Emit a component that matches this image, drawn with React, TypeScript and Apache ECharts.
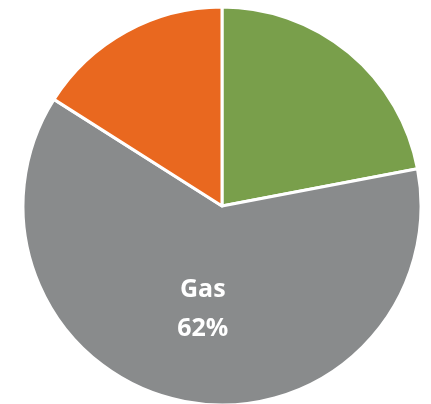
import React, { useEffect, useRef } from "react";
import * as echarts from "echarts";

const categories = ["Renewables", "Gas", "Coal"];
const values = [22, 62, 16];
const colors = ["#799f4b", "#898b8c", "#e9681f"];
const labeled = ["Gas"];

export default function App() {
  const ref = useRef<HTMLDivElement>(null);
  useEffect(() => {
    if (!ref.current) return;
    const chart = echarts.init(ref.current, null, { renderer: "svg" });
    chart.setOption({
      animation: false,
      series: [
        {
          type: "pie",
          center: [222, 206],
          radius: 199,
          startAngle: 90,
          clockwise: true,
          avoidLabelOverlap: false,
          labelLine: { show: false },
          itemStyle: { borderColor: "#ffffff", borderWidth: 3 },
          data: categories.map((name, i) => ({
            name,
            value: values[i],
            itemStyle: { color: colors[i] },
            label: {
              show: labeled.includes(name),
              position: "inside",
              formatter: "{b}\n{d}%",
              color: "#ffffff",
              fontFamily: "Open Sans",
              fontWeight: "bold",
              fontSize: 25,
              lineHeight: 39,
            },
          })),
        },
      ],
    });
    return () => chart.dispose();
  }, []);
  return (
    <div
      ref={ref}
      style={{ position: "fixed", left: 0, top: 0, width: 431, height: 404 }}
    />
  );
}
